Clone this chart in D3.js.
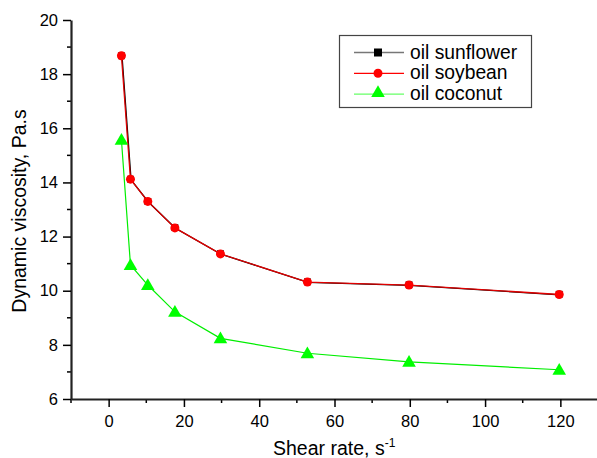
<!DOCTYPE html>
<html>
<head>
<meta charset="utf-8">
<script src="https://cdn.jsdelivr.net/npm/d3@7"></script>
<style>
body { margin: 0; background: #fff; }
svg { font-family: Arial, "Liberation Sans", sans-serif; }
</style>
</head>
<body>
<svg width="597" height="458"></svg>
<script>
var svg = d3.select("svg");

// data
var shearRate = [3.4, 5.8, 10.4, 17.6, 29.7, 52.8, 79.8, 119.7];
var sunflower = [18.68, 14.12, 13.3, 12.33, 11.37, 10.33, 10.22, 9.87];
var soybean = [18.68, 14.12, 13.3, 12.32, 11.36, 10.32, 10.21, 9.86];
var coconut = [15.57, 10.95, 10.21, 9.22, 8.24, 7.69, 7.37, 7.08];
var seriesNames = ["oil sunflower", "oil soybean", "oil coconut"];
var xTicks = [0, 20, 40, 60, 80, 100, 120];
var yTicks = [6, 8, 10, 12, 14, 16, 18, 20];

var plotLeft = 71, plotRight = 598, plotTop = 20, plotBottom = 399;

var x = d3.scaleLinear().domain([-10, 130]).range([plotLeft, plotRight]);
var y = d3.scaleLinear().domain([6, 20]).range([plotBottom, plotTop]);

// minor ticks
var xMinor = d3.range(-10, 131, 10).filter(function (d) { return d % 20 != 0; });
var yMinor = d3.range(7, 20, 2);

svg.append("g").selectAll("line").data(xMinor).enter().append("line")
    .attr("x1", function (d) { return x(d); }).attr("x2", function (d) { return x(d); })
    .attr("y1", plotBottom).attr("y2", plotBottom + 4)
    .attr("stroke", "#000").attr("stroke-width", 1.5);
svg.append("g").selectAll("line").data(yMinor).enter().append("line")
    .attr("y1", function (d) { return y(d); }).attr("y2", function (d) { return y(d); })
    .attr("x1", plotLeft).attr("x2", plotLeft - 4)
    .attr("stroke", "#000").attr("stroke-width", 1.5);

var xAxis = svg.append("g")
    .attr("transform", "translate(0," + plotBottom + ")")
    .call(d3.axisBottom(x).tickValues(xTicks).tickSize(8).tickSizeOuter(0).tickPadding(8));
var yAxis = svg.append("g")
    .attr("transform", "translate(" + plotLeft + ",0)")
    .call(d3.axisLeft(y).tickValues(yTicks).tickSize(8).tickSizeOuter(0).tickPadding(5));

[xAxis, yAxis].forEach(function (a) {
    a.attr("font-size", 16.5).attr("font-family", "Arial, 'Liberation Sans', sans-serif");
    a.select(".domain").attr("stroke", "#222").attr("stroke-width", 2.2);
    a.selectAll(".tick line").attr("stroke", "#000").attr("stroke-width", 1.5);
    a.selectAll(".tick text").attr("fill", "#000");
});

svg.append("text")
    .attr("x", 273).attr("y", 455)
    .attr("font-size", 19.5)
    .html('Shear rate, s<tspan dy="-8" font-size="12">-1</tspan>');

svg.append("text")
    .attr("transform", "translate(26,211) rotate(-90)")
    .attr("text-anchor", "middle").attr("font-size", 19.5)
    .text("Dynamic viscosity, Pa.s");

var line = d3.line()
    .x(function (d, i) { return x(shearRate[i]); })
    .y(function (d) { return y(d); });

// sunflower (black, squares) under soybean
svg.append("path").datum(sunflower).attr("d", line)
    .attr("fill", "none").attr("stroke", "#000").attr("stroke-width", 1.3)
    .attr("transform", "translate(0.6,0.6)");
svg.append("g").selectAll("rect").data(sunflower).enter().append("rect")
    .attr("x", function (d, i) { return x(shearRate[i]) - 3.4; })
    .attr("y", function (d) { return y(d) - 3.4; })
    .attr("width", 6.8).attr("height", 6.8).attr("fill", "#000");

svg.append("path").datum(soybean).attr("d", line)
    .attr("fill", "none").attr("stroke", "#e00000").attr("stroke-width", 1.3);
svg.append("g").selectAll("circle").data(soybean).enter().append("circle")
    .attr("cx", function (d, i) { return x(shearRate[i]); })
    .attr("cy", function (d) { return y(d); })
    .attr("r", 4.5).attr("fill", "#ff0000");

svg.append("path").datum(coconut).attr("d", line)
    .attr("fill", "none").attr("stroke", "#00ee00").attr("stroke-width", 1.2);
var tri = d3.symbol().type(d3.symbolTriangle).size(80);
svg.append("g").selectAll("path").data(coconut).enter().append("path")
    .attr("d", tri)
    .attr("transform", function (d, i) { return "translate(" + x(shearRate[i]) + "," + (y(d) + 1) + ")"; })
    .attr("fill", "#00ff00");

// legend
var lg = svg.append("g");
lg.append("rect").attr("x", 339.5).attr("y", 35.5).attr("width", 192).attr("height", 72)
    .attr("fill", "#fff").attr("stroke", "#444").attr("stroke-width", 1.2);
var legendColors = ["#777", "#ff0000", "#66ff66"];
seriesNames.forEach(function (name, i) {
    var ly = 52.5 + i * 20.8;
    lg.append("line").attr("x1", 354).attr("x2", 404).attr("y1", ly).attr("y2", ly)
        .attr("stroke", legendColors[i]).attr("stroke-width", i == 0 ? 1.5 : 1.2);
    if (i == 0) {
        lg.append("rect").attr("x", 374).attr("y", ly - 4).attr("width", 8).attr("height", 8).attr("fill", "#000");
    } else if (i == 1) {
        lg.append("circle").attr("cx", 378).attr("cy", ly).attr("r", 4.5).attr("fill", "#ff0000");
    } else {
        lg.append("path").attr("d", tri).attr("transform", "translate(378," + (ly - 1) + ")").attr("fill", "#00ff00");
    }
    lg.append("text").attr("x", 410).attr("y", ly + 6).attr("font-size", 19.3).text(name);
});
</script>
</body>
</html>
